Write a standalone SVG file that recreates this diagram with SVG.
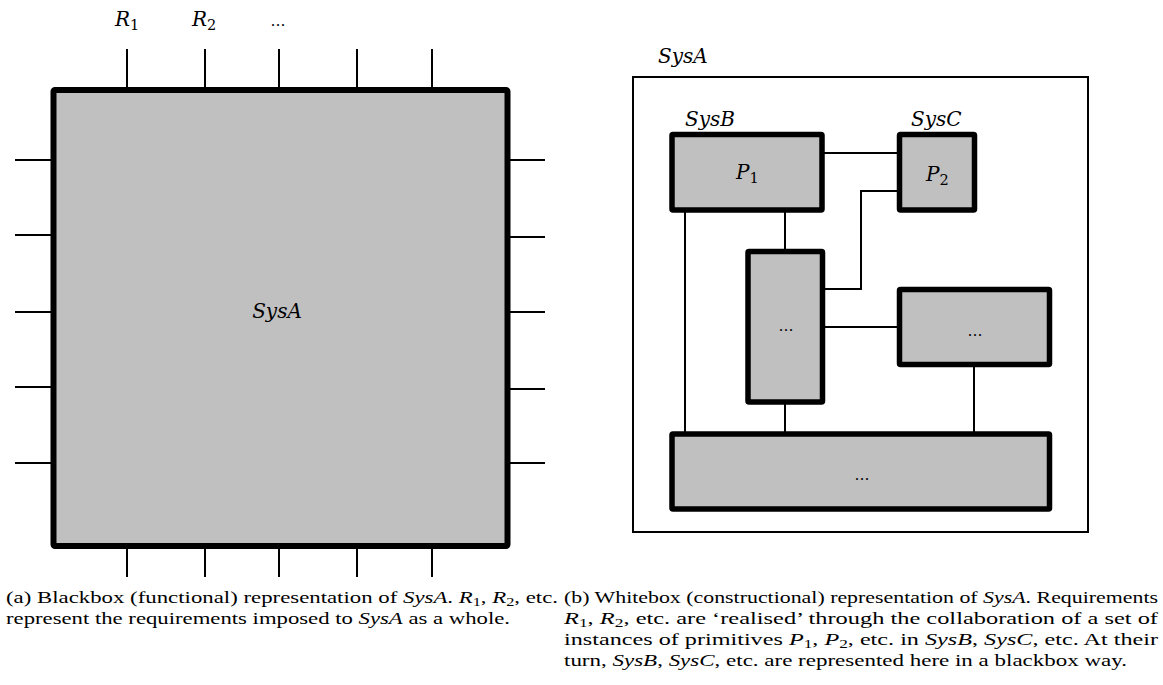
<svg xmlns="http://www.w3.org/2000/svg" width="1163" height="685" viewBox="0 0 1163 685">
<style>
.box{fill:#c0c0c0;stroke:#000;stroke-width:5.5;stroke-linejoin:round}
.big{fill:#c0c0c0;stroke:#000;stroke-width:6;stroke-linejoin:round}
.frame{fill:none;stroke:#000;stroke-width:2}
.ln{fill:none;stroke:#000;stroke-width:2}
.lbl{font-family:"DejaVu Serif",serif;font-style:italic;font-size:20px;fill:#000}
.sub{font-style:normal;font-size:14.5px}
.dots{font-family:"DejaVu Serif",serif;font-size:15px;fill:#000}
.cap{font-family:"Liberation Serif","Times New Roman",serif;font-size:17.5px;fill:#000}
.m{font-style:italic}
.cs{font-size:12.5px}
</style>
<rect width="1163" height="685" fill="#fff"/>

<g id="connectors">
  <g id="blackbox-ports">
    <path class="ln" d="M127 49V90M205 49V90M279 49V90M357 49V90M432 49V90"/>
    <path class="ln" d="M127 546V577M205 546V577M279 546V577M357 546V577M432 546V577"/>
    <path class="ln" d="M15 160H53M15 235H53M15 312H53M15 387H53M15 463H53"/>
    <path class="ln" d="M508 160H545M508 237H545M508 312H545M508 389H545M508 463H545"/>
  </g>
  <path class="ln" d="M822 153H900"/>
  <path class="ln" d="M900 191H861V289H822"/>
  <path class="ln" d="M685 210V434"/>
  <path class="ln" d="M785 210V252"/>
  <path class="ln" d="M822 327H900"/>
  <path class="ln" d="M974 364V434"/>
  <path class="ln" d="M785 402V434"/>
</g>

<g id="blackbox-SysA">
  <rect class="big" x="53.5" y="90" width="454" height="456" rx="1.5"/>
  <text class="lbl" x="277" y="318" text-anchor="middle">SysA</text>
</g>
<g id="label-R1"><text class="lbl" x="115" y="26">R<tspan class="sub" dy="4">1</tspan></text></g>
<g id="label-R2"><text class="lbl" x="192" y="26">R<tspan class="sub" dy="4">2</tspan></text></g>
<g id="label-dots"><text class="dots" x="278" y="26" text-anchor="middle">…</text></g>

<g id="whitebox-SysA">
  <rect class="frame" x="633" y="77" width="455" height="455"/>
  <text class="lbl" x="658" y="63">SysA</text>
</g>
<g id="SysB">
  <rect class="box" x="672" y="134.5" width="150" height="75.5" rx="1"/>
  <text class="lbl" x="685" y="126">SysB</text>
  <text class="lbl" x="736" y="179">P<tspan class="sub" dy="4">1</tspan></text>
</g>
<g id="SysC">
  <rect class="box" x="899.5" y="134.5" width="75" height="75.5" rx="1"/>
  <text class="lbl" x="911" y="126">SysC</text>
  <text class="lbl" x="926" y="181">P<tspan class="sub" dy="4">2</tspan></text>
</g>
<g id="node-tall">
  <rect class="box" x="748" y="251.5" width="74.5" height="150.5" rx="1"/>
  <text class="dots" x="786" y="331" text-anchor="middle">…</text>
</g>
<g id="node-right">
  <rect class="box" x="899.5" y="289.5" width="150" height="75" rx="1"/>
  <text class="dots" x="975" y="336" text-anchor="middle">…</text>
</g>
<g id="node-bottom">
  <rect class="box" x="672" y="434" width="377.5" height="75" rx="1"/>
  <text class="dots" x="862" y="480" text-anchor="middle">…</text>
</g>

<g id="caption-a">
  <text class="cap" x="6" y="603" textLength="552" lengthAdjust="spacingAndGlyphs">(a) Blackbox (functional) representation of <tspan class="m">SysA</tspan>. <tspan class="m">R</tspan><tspan class="cs" dy="3">1</tspan><tspan dy="-3">, </tspan><tspan class="m">R</tspan><tspan class="cs" dy="3">2</tspan><tspan dy="-3">, etc.</tspan></text>
  <text class="cap" x="6" y="624" textLength="504" lengthAdjust="spacingAndGlyphs">represent the requirements imposed to <tspan class="m">SysA</tspan> as a whole.</text>
</g>
<g id="caption-b">
  <text class="cap" x="564" y="603" textLength="594" lengthAdjust="spacingAndGlyphs">(b) Whitebox (constructional) representation of <tspan class="m">SysA</tspan>. Requirements</text>
  <text class="cap" x="564" y="624" textLength="594" lengthAdjust="spacingAndGlyphs"><tspan class="m">R</tspan><tspan class="cs" dy="3">1</tspan><tspan dy="-3">, </tspan><tspan class="m">R</tspan><tspan class="cs" dy="3">2</tspan><tspan dy="-3">, etc. are ‘realised’ through the collaboration of a set of</tspan></text>
  <text class="cap" x="564" y="645" textLength="594" lengthAdjust="spacingAndGlyphs">instances of primitives <tspan class="m">P</tspan><tspan class="cs" dy="3">1</tspan><tspan dy="-3">, </tspan><tspan class="m">P</tspan><tspan class="cs" dy="3">2</tspan><tspan dy="-3">, etc. in </tspan><tspan class="m">SysB</tspan>, <tspan class="m">SysC</tspan>, etc. At their</text>
  <text class="cap" x="564" y="666" textLength="563" lengthAdjust="spacingAndGlyphs">turn, <tspan class="m">SysB</tspan>, <tspan class="m">SysC</tspan>, etc. are represented here in a blackbox way.</text>
</g>
</svg>
